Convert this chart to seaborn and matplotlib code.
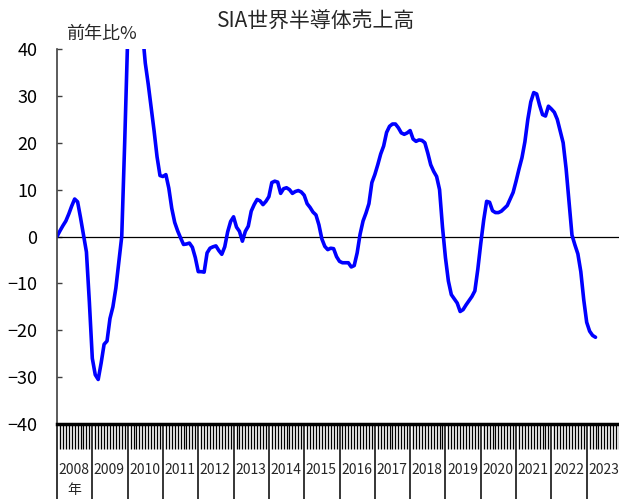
import numpy as np
import pandas as pd
import seaborn as sns
import matplotlib.pyplot as plt
from matplotlib.ticker import FixedLocator, NullFormatter

# monthly YoY % (3-month avg), Jan 2008 .. Apr 2023
values = [
    0, 1.2, 2.3, 3.3, 4.8, 6.5, 8.0, 7.4, 4.0, 0.3, -3.3, -14,          # 2008
    -26, -29.5, -30.5, -27, -23, -22.3, -17.5, -15, -11, -5.5, 0, 20,   # 2009
    42, 52, 57, 54, 48, 44, 37, 32.5, 27.5, 22.5, 17, 13,               # 2010
    12.8, 13.2, 10.3, 6.0, 3, 1.2, -0.3, -1.7, -1.6, -1.4, -2.3, -4.5,  # 2011
    -7.5, -7.5, -7.6, -3.5, -2.5, -2.2, -2, -3, -3.8, -2.2, 1, 3.2,     # 2012
    4.2, 2, 1.1, -1, 1.1, 2.2, 5.4, 6.8, 7.9, 7.6, 6.8, 7.5,           # 2013
    8.5, 11.5, 11.8, 11.6, 9.2, 10.2, 10.4, 10, 9.2, 9.6, 9.8, 9.5,    # 2014
    8.8, 7, 6.2, 5.2, 4.6, 2.5, -0.5, -2.1, -2.8, -2.5, -2.6, -4.3,    # 2015
    -5.3, -5.6, -5.6, -5.6, -6.5, -6.2, -3.5, 0.5, 3.3, 5, 7, 11.5,    # 2016
    13.2, 15.3, 17.6, 19.3, 22.2, 23.5, 24, 24, 23.2, 22.1, 21.8, 22.1, # 2017
    22.6, 20.8, 20.3, 20.6, 20.5, 20, 17.8, 15.3, 13.9, 12.8, 10, 2,   # 2018
    -4.5, -9.5, -12.4, -13.3, -14.2, -16, -15.6, -14.6, -13.7, -12.8, -11.6, -7,  # 2019
    -1.5, 3.5, 7.5, 7.3, 5.5, 5.1, 5.1, 5.4, 6, 6.6, 8, 9.4,           # 2020
    11.8, 14.4, 16.8, 20.2, 25, 28.7, 30.7, 30.4, 28, 26, 25.7, 27.8,  # 2021
    27.2, 26.5, 25, 22.5, 20, 14.5, 7.5, 0.3, -1.8, -3.7, -7.5, -13.5, # 2022
    -18.3, -20.2, -21.1, -21.5,                                         # 2023
]
years = list(range(2008, 2024))
yticks = [-40, -30, -20, -10, 0, 10, 20, 30, 40]

df = pd.DataFrame({"month": np.arange(len(values)), "yoy": values})

sns.set_style("white")
plt.rcParams["font.family"] = ["Noto Sans CJK JP", "DejaVu Sans"]

fig = plt.figure(figsize=(6.19, 4.99), dpi=100)
ax = fig.add_axes([57 / 619, 75 / 499, 565 / 619, 375 / 499])

sns.lineplot(data=df, x="month", y="yoy", color="#0000ff", linewidth=2.6, ax=ax)
ax.axhline(0, color="black", linewidth=0.9, zorder=1)

ax.set_xlim(0, 12 * len(years))
ax.set_ylim(-40, 40)
ax.set_xlabel("")
ax.set_ylabel("")

for side in ["top", "right"]:
    ax.spines[side].set_visible(False)
ax.spines["left"].set_color("#404040")
ax.spines["left"].set_linewidth(1.2)
ax.spines["bottom"].set_color("black")
ax.spines["bottom"].set_linewidth(2.5)

ax.set_yticks(yticks)
ax.set_yticklabels([str(v).replace("-", "\u2212") for v in yticks])
ax.tick_params(axis="y", direction="in", length=3.5, width=1, color="#404040",
               pad=14, labelsize=13, labelcolor="black", left=True)

# year separators (major) and monthly ticks (minor)
ax.xaxis.set_major_locator(FixedLocator([12 * i for i in range(len(years) + 1)]))
ax.xaxis.set_major_formatter(NullFormatter())
ax.xaxis.set_minor_locator(FixedLocator(list(range(0, 12 * len(years) + 1))))
ax.tick_params(axis="x", which="major", direction="out", length=56, width=1.1,
               color="black", bottom=True)
ax.tick_params(axis="x", which="minor", direction="out", length=18, width=0.95,
               color="black", bottom=True)

trans = ax.get_xaxis_transform()
for i, yr in enumerate(years):
    ax.text(12 * i + 5.8, -0.123, str(yr), transform=trans, ha="center",
            va="center", fontsize=10, clip_on=False)
ax.text(6, -0.176, "年", transform=trans, ha="center", va="center",
        fontsize=10, clip_on=False)

fig.text(316 / 619, 1 - 22 / 499, "SIA世界半導体売上高", ha="center",
         va="center", fontsize=15)
fig.text(66 / 619, 1 - 34 / 499, "前年比%", ha="left", va="center", fontsize=13)

fig.savefig("out.png", dpi=100)
